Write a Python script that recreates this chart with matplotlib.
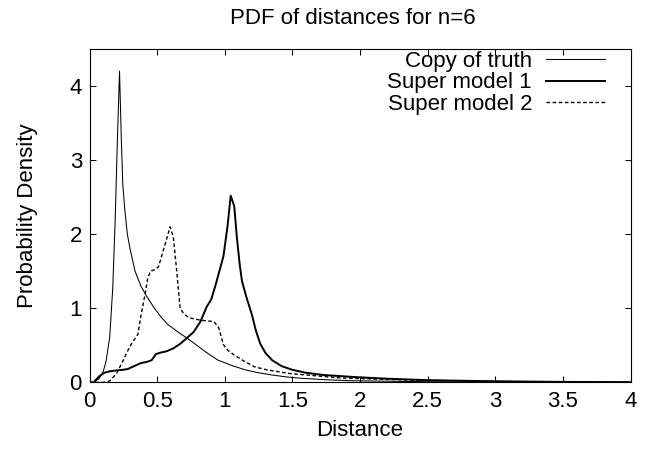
import matplotlib
matplotlib.use("Agg")
import matplotlib.pyplot as plt
import numpy as np

plt.rcParams['font.family'] = ['Liberation Sans', 'DejaVu Sans']

title = "PDF of distances for n=6"
xlabel = "Distance"
ylabel = "Probability Density"
labels = ["Copy of truth", "Super model 1", "Super model 2"]

truth_x = [0.0, 0.03, 0.07, 0.10, 0.122, 0.15, 0.172, 0.19, 0.205, 0.222, 0.235, 0.246,
           0.26, 0.28, 0.30, 0.337, 0.38, 0.42, 0.48, 0.53, 0.58, 0.67, 0.72, 0.86,
           0.95, 1.05, 1.15, 1.25, 1.35, 1.45, 1.55, 1.75, 1.95, 2.5, 3.0, 3.5, 4.0]
truth_y = [0.0, 0.0, 0.05, 0.14, 0.28, 0.62, 1.28, 2.2, 3.2, 4.2, 3.3, 2.68,
           2.35, 2.0, 1.8, 1.5, 1.3, 1.17, 1.0, 0.88, 0.78, 0.66, 0.6, 0.41,
           0.30, 0.23, 0.17, 0.13, 0.10, 0.075, 0.058, 0.035, 0.022, 0.009, 0.004, 0.002, 0.001]

sm1_x = [0.0, 0.03, 0.07, 0.11, 0.15, 0.19, 0.245, 0.283, 0.33, 0.38, 0.43, 0.46, 0.49,
         0.52, 0.57, 0.62, 0.67, 0.72, 0.77, 0.82, 0.866, 0.90, 0.93, 0.96, 0.99, 1.02,
         1.044, 1.07, 1.09, 1.11, 1.127, 1.16, 1.2, 1.23, 1.263, 1.3, 1.35, 1.42, 1.5,
         1.6, 1.73, 1.98, 2.2, 2.5, 3.0, 3.5, 4.0]
sm1_y = [0.0, 0.0, 0.08, 0.13, 0.15, 0.16, 0.17, 0.18, 0.22, 0.26, 0.28, 0.30, 0.38,
         0.40, 0.42, 0.46, 0.52, 0.60, 0.68, 0.82, 1.02, 1.12, 1.3, 1.5, 1.7, 2.1,
         2.52, 2.38, 1.95, 1.6, 1.37, 1.15, 0.92, 0.7, 0.52, 0.4, 0.3, 0.22, 0.17,
         0.13, 0.10, 0.07, 0.05, 0.03, 0.015, 0.007, 0.003]

sm2_x = [0.0, 0.1, 0.15, 0.2, 0.25, 0.275, 0.31, 0.358, 0.38, 0.411, 0.43, 0.45,
         0.48, 0.51, 0.56, 0.596, 0.62, 0.645, 0.67, 0.70, 0.74, 0.82, 0.92, 0.955,
         0.99, 1.025, 1.07, 1.14, 1.22, 1.31, 1.48, 1.7, 1.855, 2.2, 2.5, 3.0, 3.5, 4.0]
sm2_y = [0.0, 0.0, 0.02, 0.12, 0.3, 0.4, 0.52, 0.65, 0.9, 1.19, 1.4, 1.5,
         1.52, 1.56, 1.87, 2.1, 1.96, 1.5, 1.0, 0.92, 0.87, 0.84, 0.82, 0.74,
         0.51, 0.43, 0.37, 0.29, 0.21, 0.17, 0.12, 0.085, 0.06, 0.04, 0.028, 0.013, 0.006, 0.003]

xticks = [0, 0.5, 1, 1.5, 2, 2.5, 3, 3.5, 4]
xticklabels = ["0", "0.5", "1", "1.5", "2", "2.5", "3", "3.5", "4"]
yticks = [0, 1, 2, 3, 4]
yticklabels = ["0", "1", "2", "3", "4"]

fs = 16
W, H = 651, 450
L, R, B, T = 89.5, 630.5, 382.4, 49.0
fig = plt.figure(figsize=(6.51, 4.5), dpi=100)
ax = fig.add_axes([L / W, 1 - B / H, (R - L) / W, (B - T) / H])

ax.plot(truth_x, truth_y, color='black', lw=0.75, label=labels[0])
ax.plot(sm1_x, sm1_y, color='black', lw=1.4, label=labels[1])
ax.plot(sm2_x, sm2_y, color='black', lw=1.0, ls=(0, (2.6, 1.8)), label=labels[2])

ax.set_xlim(0, 4)
ax.set_ylim(0, 4.5)
ax.set_xticks(xticks)
ax.set_xticklabels(xticklabels)
ax.set_yticks(yticks)
ax.set_yticklabels(yticklabels)
ax.tick_params(direction='in', length=4.3, width=0.75, top=True, right=True, labelsize=fs)
ax.tick_params(axis='x', pad=6)
ax.tick_params(axis='y', pad=5.4)
for s in ax.spines.values():
    s.set_linewidth(0.8)

ax.set_xlabel(xlabel, fontsize=fs, va='center')
ax.xaxis.set_label_coords(0.5, (B - 430) / (B - T))
ax.set_ylabel(ylabel, fontsize=fs, va='center')
ax.yaxis.set_label_coords((28 - L) / (R - L), 0.5)
fig.text(353 / W, 1 - 18 / H, title, fontsize=fs, ha='center', va='center')

ax.legend(loc='upper right', markerfirst=False, frameon=False, fontsize=fs,
          handlelength=2.65, handletextpad=0.63, labelspacing=0.02,
          borderaxespad=0, borderpad=0,
          bbox_to_anchor=((605 - L) / (R - L), (B - 51) / (B - T)))

fig.savefig("out.png", dpi=100)
